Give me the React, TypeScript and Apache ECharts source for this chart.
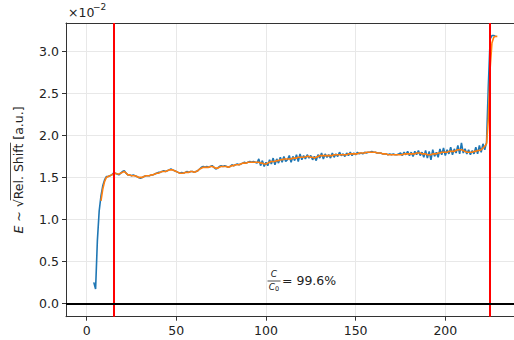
import React, { useEffect, useRef } from "react";
import * as echarts from "echarts";

// raw (blue) series: x = blueStart, blueStart+1, ...
const blueStart = 4;
const blueValues = [
  0.25, 0.17, 0.75, 1.10, 1.28, 1.40, 1.47, 1.51, 1.51, 1.52,
  1.53, 1.55, 1.55, 1.54, 1.53, 1.55, 1.57, 1.58, 1.55, 1.53,
  1.53, 1.52, 1.53, 1.52, 1.51, 1.50, 1.49, 1.50, 1.51, 1.52,
  1.52, 1.52, 1.53, 1.53, 1.54, 1.55, 1.56, 1.56, 1.57, 1.58,
  1.57, 1.58, 1.59, 1.60, 1.59, 1.58, 1.57, 1.56, 1.55, 1.56,
  1.55, 1.56, 1.57, 1.56, 1.57, 1.57, 1.56, 1.57, 1.58, 1.60,
  1.62, 1.63, 1.62, 1.63, 1.62, 1.63, 1.64, 1.62, 1.60, 1.61,
  1.63, 1.64, 1.63, 1.64, 1.63, 1.62, 1.63, 1.65, 1.64, 1.65,
  1.66, 1.65, 1.66, 1.67, 1.68, 1.67, 1.68, 1.69, 1.68, 1.69,
  1.68, 1.67, 1.72, 1.64, 1.70, 1.63, 1.68, 1.64, 1.71, 1.66,
  1.73, 1.65, 1.72, 1.67, 1.74, 1.68, 1.75, 1.69, 1.71, 1.76,
  1.68, 1.75, 1.70, 1.77, 1.69, 1.78, 1.71, 1.76, 1.72, 1.77,
  1.73, 1.76, 1.71, 1.75, 1.70, 1.77, 1.73, 1.79, 1.72, 1.78,
  1.74, 1.77, 1.73, 1.79, 1.74, 1.78, 1.75, 1.80, 1.76, 1.78,
  1.75, 1.79, 1.76, 1.80, 1.76, 1.79, 1.77, 1.80, 1.78, 1.79,
  1.78, 1.80, 1.79, 1.80, 1.80, 1.81, 1.80, 1.80, 1.79, 1.79,
  1.79, 1.78, 1.78, 1.78, 1.77, 1.78, 1.77, 1.78, 1.77, 1.77,
  1.78, 1.79, 1.76, 1.80, 1.77, 1.81, 1.76, 1.80, 1.75, 1.81,
  1.77, 1.82, 1.76, 1.80, 1.74, 1.82, 1.73, 1.81, 1.71, 1.83,
  1.75, 1.80, 1.74, 1.84, 1.77, 1.85, 1.76, 1.83, 1.78, 1.86,
  1.77, 1.84, 1.79, 1.88, 1.78, 1.91, 1.79, 1.84, 1.78, 1.83,
  1.77, 1.82, 1.78, 1.86, 1.78, 1.88, 1.80, 1.90, 1.83, 1.92,
  2.60, 3.15, 3.19, 3.19, 3.18,
];

// smoothed (orange) series
const orangeStart = 8;
const orangeValues = [
  1.22, 1.36, 1.45, 1.50, 1.51, 1.52, 1.53, 1.54, 1.55, 1.54,
  1.54, 1.55, 1.56, 1.57, 1.55, 1.53, 1.53, 1.52, 1.52, 1.52,
  1.51, 1.50, 1.50, 1.50, 1.51, 1.52, 1.52, 1.52, 1.53, 1.53,
  1.54, 1.55, 1.55, 1.56, 1.57, 1.57, 1.57, 1.58, 1.59, 1.59,
  1.59, 1.58, 1.57, 1.56, 1.55, 1.55, 1.55, 1.56, 1.56, 1.56,
  1.57, 1.57, 1.56, 1.57, 1.58, 1.60, 1.61, 1.62, 1.62, 1.62,
  1.62, 1.63, 1.63, 1.62, 1.61, 1.61, 1.62, 1.63, 1.63, 1.63,
  1.63, 1.62, 1.63, 1.64, 1.64, 1.65, 1.65, 1.65, 1.66, 1.67,
  1.67, 1.67, 1.68, 1.68, 1.68, 1.68, 1.68, 1.68, 1.68, 1.67,
  1.67, 1.66, 1.66, 1.67, 1.68, 1.69, 1.69, 1.69, 1.70, 1.70,
  1.71, 1.71, 1.72, 1.72, 1.72, 1.72, 1.72, 1.73, 1.73, 1.73,
  1.74, 1.74, 1.74, 1.74, 1.745, 1.75, 1.75, 1.74, 1.74, 1.73,
  1.74, 1.75, 1.76, 1.76, 1.76, 1.76, 1.76, 1.76, 1.76, 1.76,
  1.77, 1.77, 1.77, 1.77, 1.77, 1.77, 1.77, 1.77, 1.78, 1.78,
  1.78, 1.78, 1.78, 1.78, 1.79, 1.79, 1.79, 1.79, 1.80, 1.80,
  1.80, 1.80, 1.80, 1.80, 1.79, 1.79, 1.79, 1.78, 1.78, 1.78,
  1.77, 1.77, 1.77, 1.77, 1.77, 1.77, 1.77, 1.77, 1.77, 1.78,
  1.78, 1.78, 1.78, 1.78, 1.78, 1.78, 1.79, 1.79, 1.79, 1.78,
  1.78, 1.78, 1.77, 1.77, 1.77, 1.78, 1.78, 1.78, 1.79, 1.79,
  1.80, 1.80, 1.80, 1.80, 1.81, 1.81, 1.81, 1.81, 1.82, 1.83,
  1.83, 1.83, 1.82, 1.81, 1.80, 1.80, 1.80, 1.80, 1.81, 1.81,
  1.82, 1.82, 1.83, 1.85, 1.87, 1.90, 2.20, 2.80, 3.10, 3.17,
  3.18, 3.18,
];

const xTicks = [0, 50, 100, 150, 200];
const yTicks = [0, 0.5, 1.0, 1.5, 2.0, 2.5, 3.0];
const verticalMarks = [15, 224.5];
const horizontalMarks = [0];
const xRange = [-11.5, 238.3];
const yRange = [-0.159, 3.339];
const yAxisTitle = ["E", " ~ √", "Rel. Shift", " [a.u.]"];
const ratioText = "= 99.6%";
const scaleText = ["×10", "−2"];

const FONT = "DejaVu Sans";
const FS = 12.5;

export default function App() {
  const ref = useRef<HTMLDivElement>(null);
  useEffect(() => {
    document.body.style.margin = "0";
    if (!ref.current) return;
    const chart = echarts.init(ref.current, undefined, { renderer: "svg" });

    const blueData = blueValues.map((v, i) => [blueStart + i, v]);
    const orangeData = orangeValues.map((v, i) => [orangeStart + i, v]);

    // measure title pieces for overline placement
    const cv = document.createElement("canvas").getContext("2d")!;
    cv.font = `italic ${FS}px "${FONT}"`;
    const wE = cv.measureText(yAxisTitle[0]).width;
    cv.font = `${FS}px "${FONT}"`;
    const wSim = cv.measureText(yAxisTitle[1]).width;
    const wRel = cv.measureText(yAxisTitle[2]).width;
    const wAu = cv.measureText(yAxisTitle[3]).width;
    const total = wE + wSim + wRel + wAu;
    const startX = -total / 2;
    const olStart = startX + wE + wSim - 1;
    const olEnd = olStart + 1 + wRel + 1;

    const spine = { show: true, onZero: false, lineStyle: { color: "#333", width: 1 } };

    chart.setOption({
      animation: false,
      grid: {
        left: 66,
        top: 23,
        right: 0,
        bottom: 340 - 316.7,
        show: false,
      },
      xAxis: [
        {
          type: "value",
          position: "bottom",
          min: xRange[0],
          max: xRange[1],
          minInterval: 50,
          maxInterval: 50,
          axisLine: spine,
          axisTick: {
            show: true,
            customValues: xTicks,
            length: 4,
            lineStyle: { color: "#333" },
          },
          axisLabel: {
            customValues: xTicks,
            color: "#222",
            fontFamily: FONT,
            fontSize: FS,
            margin: 7,
          },
          splitLine: { show: true, lineStyle: { color: "#e8e8e8", width: 1 } },
        },
        {
          type: "value",
          position: "top",
          min: xRange[0],
          max: xRange[1],
          axisLine: spine,
          axisTick: { show: false },
          axisLabel: { show: false },
          splitLine: { show: false },
        },
      ],
      yAxis: {
        type: "value",
        min: yRange[0],
        max: yRange[1],
        minInterval: 0.5,
        maxInterval: 0.5,
        axisLine: spine,
        axisTick: {
          show: true,
          customValues: yTicks,
          length: 4,
          lineStyle: { color: "#333" },
        },
        axisLabel: {
          customValues: yTicks,
          color: "#222",
          fontFamily: FONT,
          fontSize: FS,
          margin: 7,
          formatter: (v: number) => v.toFixed(1),
        },
        splitLine: { show: true, lineStyle: { color: "#e8e8e8", width: 1 } },
      },
      series: [
        {
          type: "line",
          data: blueData,
          showSymbol: false,
          lineStyle: { color: "#1f77b4", width: 1.6 },
          itemStyle: { color: "#1f77b4" },
          z: 2,
        },
        {
          type: "line",
          data: orangeData,
          showSymbol: false,
          lineStyle: { color: "#ff7f0e", width: 1.6 },
          itemStyle: { color: "#ff7f0e" },
          z: 3,
          markLine: {
            silent: true,
            symbol: "none",
            label: { show: false },
            data: [
              ...verticalMarks.map((x) => ({
                xAxis: x,
                lineStyle: { color: "#ff0000", width: 2, type: "solid" },
              })),
              ...horizontalMarks.map((y) => ({
                yAxis: y,
                lineStyle: { color: "#000000", width: 2, type: "solid" },
              })),
            ],
          },
        },
      ],
      graphic: [
        {
          type: "group",
          x: 18,
          y: 170,
          rotation: Math.PI / 2,
          children: [
            {
              type: "text",
              x: startX,
              y: 0,
              style: {
                text: `{i|${yAxisTitle[0]}}{n|${yAxisTitle[1]}${yAxisTitle[2]}${yAxisTitle[3]}}`,
                rich: {
                  i: { fontFamily: FONT, fontSize: FS, fontStyle: "italic", fill: "#222" },
                  n: { fontFamily: FONT, fontSize: FS, fill: "#222" },
                },
                align: "left",
                verticalAlign: "middle",
              },
            },
            {
              type: "line",
              shape: { x1: olStart, y1: -7.5, x2: olEnd, y2: -7.5 },
              style: { stroke: "#222", lineWidth: 0.8 },
            },
          ],
        },
        {
          type: "text",
          x: 68,
          y: 12,
          style: {
            text: scaleText[0],
            fontFamily: FONT,
            fontSize: FS,
            fill: "#222",
            align: "left",
            verticalAlign: "middle",
          },
        },
        {
          type: "text",
          x: 93,
          y: 7,
          style: {
            text: scaleText[1],
            fontFamily: FONT,
            fontSize: 9,
            fill: "#222",
            align: "left",
            verticalAlign: "middle",
          },
        },
        {
          type: "text",
          x: 274,
          y: 274,
          style: {
            text: "C",
            fontFamily: FONT,
            fontSize: 9,
            fontStyle: "italic",
            fill: "#222",
            align: "center",
            verticalAlign: "middle",
          },
        },
        {
          type: "line",
          shape: { x1: 267.5, y1: 281, x2: 280.5, y2: 281 },
          style: { stroke: "#222", lineWidth: 0.8 },
        },
        {
          type: "text",
          x: 274,
          y: 287,
          style: {
            text: "{c|C}{s|0}",
            rich: {
              c: { fontFamily: FONT, fontSize: 9, fontStyle: "italic", fill: "#222" },
              s: { fontFamily: FONT, fontSize: 6.5, fill: "#222", padding: [4, 0, 0, 0] },
            },
            align: "center",
            verticalAlign: "middle",
          },
        },
        {
          type: "text",
          x: 282,
          y: 280,
          style: {
            text: ratioText,
            fontFamily: FONT,
            fontSize: FS,
            fill: "#222",
            align: "left",
            verticalAlign: "middle",
          },
        },
      ],
    });
    return () => chart.dispose();
  }, []);
  return <div ref={ref} style={{ width: 514, height: 340 }} />;
}
